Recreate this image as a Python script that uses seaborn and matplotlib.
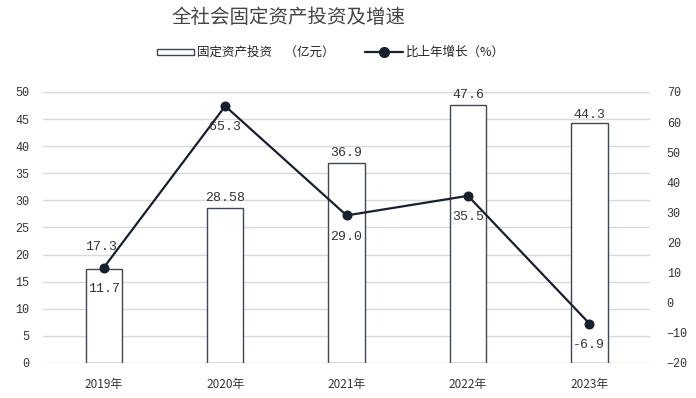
"""Fixed-asset investment bars with growth-rate line (twin axes)."""

import matplotlib.pyplot as plt
import matplotlib.lines as mlines
import matplotlib.patches as mpatches
import pandas as pd
import seaborn as sns

years = ["2019年", "2020年", "2021年", "2022年", "2023年"]
investment = [17.3, 28.58, 36.9, 47.6, 44.3]
growth = [11.7, 65.3, 29.0, 35.5, -6.9]
inv_labels = ["17.3", "28.58", "36.9", "47.6", "44.3"]
growth_labels = ["11.7", "65.3", "29.0", "35.5", "-6.9"]

sns.set_theme(style="white")
plt.rcParams["font.family"] = ["Noto Sans CJK SC", "DejaVu Sans"]
plt.rcParams["axes.unicode_minus"] = True

df = pd.DataFrame({"year": years, "investment": investment, "growth": growth})

line_color = "#17202e"
edge_color = "#3d4753"
num_font = ["Liberation Mono", "DejaVu Sans"]

fig = plt.figure(figsize=(6.96, 3.98), dpi=100)
ax = fig.add_axes([0.062, 0.088, 0.872, 0.681])

sns.barplot(data=df, x="year", y="investment", ax=ax, color="white",
            edgecolor=edge_color, linewidth=1.0, width=0.3, saturation=1)
ax.set_ylim(0, 50)
ax.set_yticks(range(0, 51, 5))
ax.set_xlim(-0.5, 4.5)
ax.yaxis.grid(True, color="#d9d9d9", linewidth=1)
ax.set_axisbelow(True)
ax.set_xlabel("")
ax.set_ylabel("")
for s in ax.spines.values():
    s.set_visible(False)
ax.tick_params(axis="both", length=0, labelsize=8.5, colors="#333333")
ax.tick_params(axis="y", pad=10)
ax.tick_params(axis="x", pad=11, labelsize=8.5)
for lab in ax.get_yticklabels():
    lab.set_family(num_font)

# the first label sits a little higher so it clears the line
bar_offsets = [(-2, 12), (0, 3), (0, 3), (0, 3), (0, 1)]
for i, (v, t) in enumerate(zip(investment, inv_labels)):
    ax.annotate(t, (i, v), xytext=bar_offsets[i], textcoords="offset points",
                ha="center", va="bottom", fontsize=9.5, color="#333333",
                family=num_font)

ax2 = ax.twinx()
sns.pointplot(data=df, x="year", y="growth", ax=ax2, color=line_color,
              markers="o", markersize=6, linewidth=1.6)
ax2.set_ylim(-20, 70)
ax2.set_yticks(range(-20, 71, 10))
ax2.set_xlim(-0.5, 4.5)
ax2.set_xlabel("")
ax2.set_ylabel("")
for s in ax2.spines.values():
    s.set_visible(False)
ax2.tick_params(axis="y", length=0, labelsize=8.5, colors="#333333", pad=12)
for lab in ax2.get_yticklabels():
    lab.set_family(num_font)

for i, (v, t) in enumerate(zip(growth, growth_labels)):
    ax2.annotate(t, (i, v), xytext=(0, -11), textcoords="offset points",
                 ha="center", va="top", fontsize=9.5, color="#333333",
                 family=num_font)

fig.text(0.415, 0.955, "全社会固定资产投资及增速", ha="center", va="center",
         fontsize=14, color="#444444")

bar_handle = mpatches.Rectangle((0, 0), 1, 1, facecolor="white",
                                edgecolor=edge_color, linewidth=1.0)
line_handle = mlines.Line2D([], [], color=line_color, linewidth=1.6,
                            marker="o", markersize=7, markevery=[0, -1])
leg = fig.legend([bar_handle, line_handle],
                 ["固定资产投资　（亿元）", "比上年增长（%）"],
                 loc="center", bbox_to_anchor=(0.475, 0.868), ncol=2,
                 frameon=False, fontsize=9, handlelength=3.0, handleheight=0.35,
                 handletextpad=0.2, columnspacing=2.5)
for t in leg.get_texts():
    t.set_color("#222222")

fig.savefig("out.png", dpi=100)
